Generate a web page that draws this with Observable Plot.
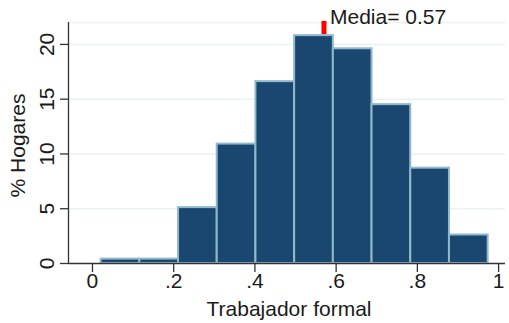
<!DOCTYPE html>
<html>
<head>
<meta charset="utf-8">
<script src="https://cdn.jsdelivr.net/npm/d3@7"></script>
<script src="https://cdn.jsdelivr.net/npm/@observablehq/plot@0.6"></script>
<style>
  html, body { margin: 0; padding: 0; background: #fff; }
</style>
</head>
<body>
<div id="chart"></div>
<script>
// Bin edges (share of formal workers) and percentage of households per bin
const binLo = [0.0213, 0.1166, 0.2119, 0.3072, 0.4025, 0.4978, 0.5931, 0.6884, 0.7837, 0.8790];
const binHi = [0.1166, 0.2119, 0.3072, 0.4025, 0.4978, 0.5931, 0.6884, 0.7837, 0.8790, 0.9743];
const pct   = [0.4, 0.4, 5.1, 10.9, 16.6, 20.8, 19.6, 14.5, 8.7, 2.6];

const meanValue = 0.57;
const meanLabel = ["Media= 0.57"];

const xTicks = [0, 0.2, 0.4, 0.6, 0.8, 1];
const xTickLabels = ["0", ".2", ".4", ".6", ".8", "1"];
const yTicks = [0, 5, 10, 15, 20];
const yTickLabels = ["0", "5", "10", "15", "20"];
const gridVals = [5, 10, 15, 20, 22];

const xTitle = ["Trabajador formal"];
const yTitle = ["% Hogares"];

const bars = pct.map((p, i) => ({lo: binLo[i], hi: binHi[i], pct: p}));
const xt = xTicks.map((v, i) => ({v, label: xTickLabels[i]}));
const yt = yTicks.map((v, i) => ({v, label: yTickLabels[i]}));

const xDomain = [-0.059, 1.017];
const yDomain = [0, 22];
const axisColor = "#333333";
const textColor = "#1a1a1a";

const chart = Plot.plot({
  width: 509,
  height: 323,
  marginLeft: 68,
  marginRight: 4,
  marginTop: 22,
  marginBottom: 60,
  style: {fontFamily: "'Liberation Sans', Arial, sans-serif", fontSize: "21px", background: "#fff", color: textColor},
  x: {domain: xDomain},
  y: {domain: yDomain},
  marks: [
    Plot.ruleY(gridVals, {stroke: "#eaf2f3", strokeWidth: 1.5}),
    Plot.rectY(bars, {x1: "lo", x2: "hi", y1: 0, y2: "pct", fill: "#1a476f", stroke: "#92b8cd", strokeWidth: 2}),
    Plot.ruleY([0], {stroke: axisColor, strokeWidth: 1.3}),
    Plot.ruleX([xDomain[0]], {y1: yDomain[0], y2: yDomain[1], stroke: axisColor, strokeWidth: 1.3}),
    Plot.axisY({ticks: yTicks, tickSize: 8, tickFormat: () => "", label: null, stroke: axisColor, strokeWidth: 1.3}),
    Plot.axisX({ticks: xTicks, tickSize: 9, tickFormat: () => "", label: null, stroke: axisColor, strokeWidth: 1.3}),
    Plot.text(yt, {y: "v", text: "label", frameAnchor: "left", rotate: -90, dx: -15, lineAnchor: "bottom", textAnchor: "middle", fontSize: 21, fill: textColor}),
    Plot.text(xt, {x: "v", text: "label", frameAnchor: "bottom", dy: 24, lineAnchor: "bottom", textAnchor: "middle", fontSize: 21, fill: textColor}),
    Plot.text(yTitle, {frameAnchor: "left", rotate: -90, dx: -44, dy: 2.5, lineAnchor: "bottom", textAnchor: "middle", fontSize: 21, fill: textColor}),
    Plot.text(xTitle, {frameAnchor: "bottom", dy: 52, dx: 2, lineAnchor: "bottom", textAnchor: "middle", fontSize: 21, fill: textColor}),
    Plot.ruleX([meanValue], {y1: 20.9, y2: 22.1, stroke: "#ff0000", strokeWidth: 5}),
    Plot.text(meanLabel, {x: meanValue, y: 22, dx: 6, dy: 1, lineAnchor: "bottom", textAnchor: "start", fontSize: 21, fill: textColor})
  ]
});
document.getElementById("chart").appendChild(chart);
</script>
</body>
</html>
